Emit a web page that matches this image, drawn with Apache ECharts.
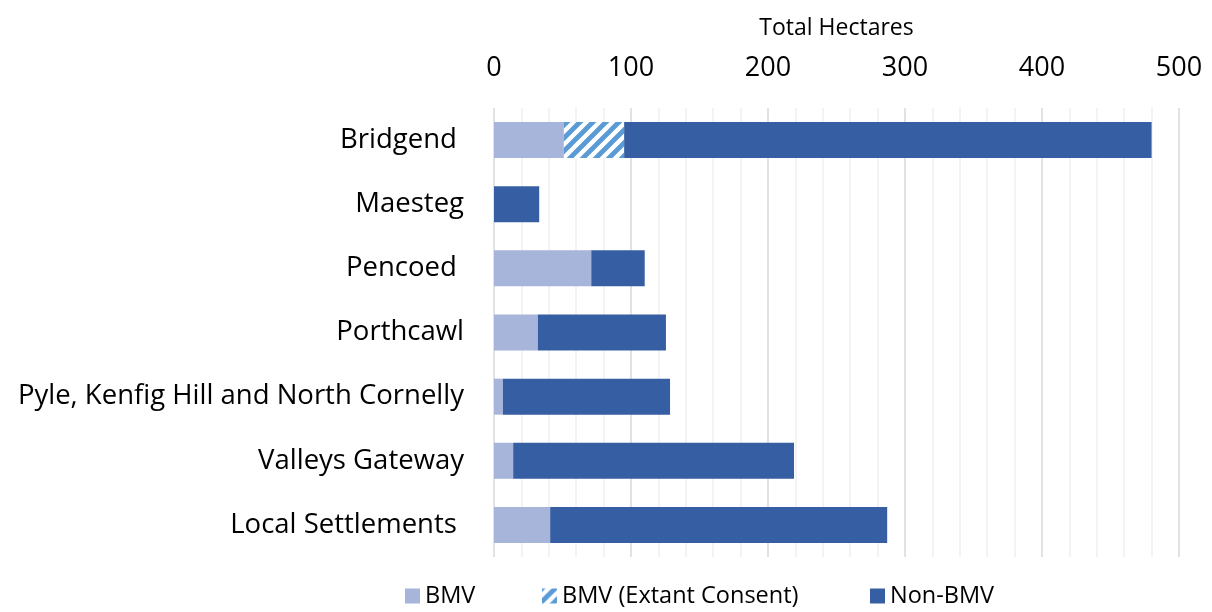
<!DOCTYPE html>
<html><head><meta charset="utf-8">
<script src="https://cdn.jsdelivr.net/npm/echarts@6/dist/echarts.min.js"></script>
<style>html,body{margin:0;padding:0;background:#fff}#c{width:1212px;height:612px}</style>
</head><body><div id="c"></div>
<script>
const categories = ['Bridgend ', 'Maesteg', 'Pencoed ', 'Porthcawl', 'Pyle, Kenfig Hill and North Cornelly', 'Valleys Gateway', 'Local Settlements '];
const bmv = [51, 0, 71, 32, 6.5, 14, 41];
const bmvExtant = [44, 0, 0, 0, 0, 0, 0];
const nonBmv = [385, 33, 39, 93.5, 122, 205, 246];
const xTicks = [0, 100, 200, 300, 400, 500];

const FONT = 'Open Sans';
const chart = echarts.init(document.getElementById('c'));

function hatch() {
  const s = 13;
  const cv = document.createElement('canvas');
  cv.width = s; cv.height = s;
  const ctx = cv.getContext('2d');
  ctx.fillStyle = '#fff';
  ctx.fillRect(0, 0, s, s);
  ctx.strokeStyle = '#5B9BD5';
  ctx.lineWidth = 4.8;
  ctx.beginPath();
  ctx.moveTo(-s, 2 * s); ctx.lineTo(2 * s, -s);
  ctx.moveTo(-2 * s, 2 * s); ctx.lineTo(s, -s);
  ctx.moveTo(0, 2 * s); ctx.lineTo(3 * s, -s);
  ctx.stroke();
  return { image: cv, repeat: 'repeat' };
}

const legendText = { fontFamily: FONT, fontSize: 23.5, color: '#000' };
const legendBase = { bottom: -1, itemWidth: 15, itemHeight: 15, itemGap: 0, textStyle: legendText, icon: 'rect' };
chart.setOption({
  animation: false,
  textStyle: { fontFamily: FONT },
  grid: { left: 494, right: 33, top: 108, bottom: 55, containLabel: false },
  legend: [
    Object.assign({ data: ['BMV'], left: 400 }, legendBase),
    Object.assign({ data: ['BMV (Extant Consent)'], left: 537 }, legendBase),
    Object.assign({ data: ['Non-BMV'], left: 865 }, legendBase)
  ],
  xAxis: {
    type: 'value', position: 'top', min: xTicks[0], max: xTicks[xTicks.length - 1], interval: 100,
    name: 'Total Hectares', nameLocation: 'middle', nameGap: 68,
    nameTextStyle: { fontFamily: FONT, fontSize: 23, color: '#000' },
    axisLine: { show: false }, axisTick: { show: false },
    axisLabel: { fontFamily: FONT, fontSize: 27, color: '#000', margin: 26 },
    splitLine: { show: true, lineStyle: { color: '#D9D9D9', width: 1.5 } },
    minorTick: { show: false, splitNumber: 5 },
    minorSplitLine: { show: true, lineStyle: { color: '#F0F0F0', width: 1.5 } }
  },
  yAxis: {
    type: 'category', data: categories, inverse: true,
    axisLine: { show: false }, axisTick: { show: false },
    axisLabel: { fontFamily: FONT, fontSize: 27.5, color: '#000', margin: 30 }
  },
  series: [
    { name: 'BMV', type: 'bar', stack: 't', data: bmv, barWidth: 36, itemStyle: { color: '#A7B5DA' } },
    { name: 'BMV (Extant Consent)', type: 'bar', stack: 't', data: bmvExtant, barWidth: 36, itemStyle: { color: hatch() } },
    { name: 'Non-BMV', type: 'bar', stack: 't', data: nonBmv, barWidth: 36, itemStyle: { color: '#365EA2' } }
  ]
});
</script></body></html>
